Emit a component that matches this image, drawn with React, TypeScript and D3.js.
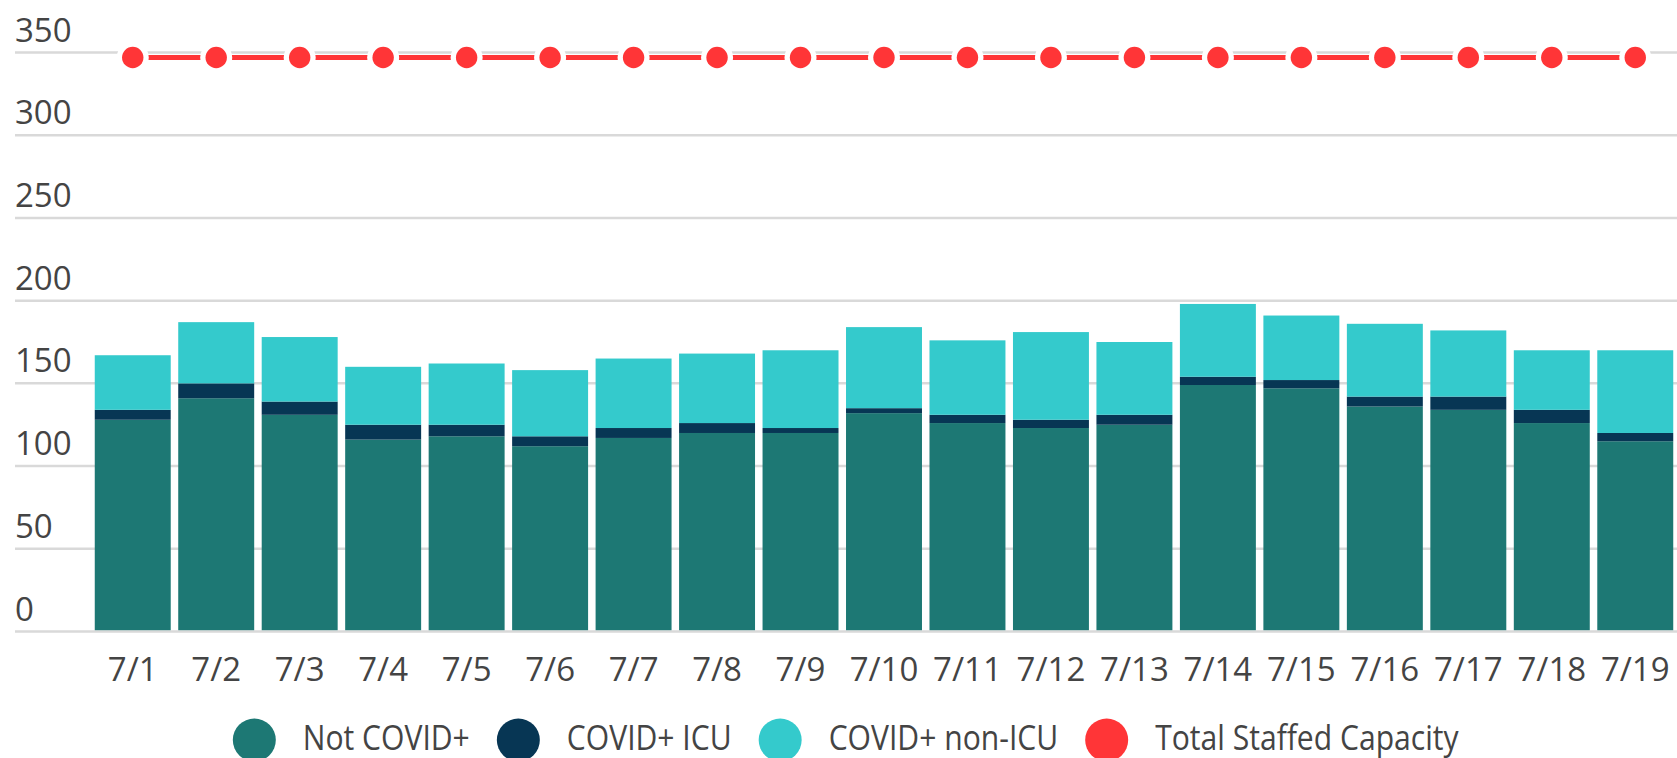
import React, { useEffect, useRef } from "react";
import * as d3 from "d3";

const dates = ["7/1", "7/2", "7/3", "7/4", "7/5", "7/6", "7/7", "7/8", "7/9", "7/10", "7/11", "7/12", "7/13", "7/14", "7/15", "7/16", "7/17", "7/18", "7/19"];
const notCovid = [128, 141, 131, 116, 118, 112, 117, 120, 120, 132, 126, 123, 125, 149, 147, 136, 134, 126, 115];
const covidIcu = [6, 9, 8, 9, 7, 6, 6, 6, 3, 3, 5, 5, 6, 5, 5, 6, 8, 8, 5];
const covidNonIcu = [33, 37, 39, 35, 37, 40, 42, 42, 47, 49, 45, 53, 44, 44, 39, 44, 40, 36, 50];
const capacity = [347, 347, 347, 347, 347, 347, 347, 347, 347, 347, 347, 347, 347, 347, 347, 347, 347, 347, 347];
const yTicks = [0, 50, 100, 150, 200, 250, 300, 350];

const seriesNames = ["Not COVID+", "COVID+ ICU", "COVID+ non-ICU", "Total Staffed Capacity"];
const colors = ["#1d7874", "#073654", "#34cacc", "#ff3537"];

const W = 1677;
const H = 758;
const FONT = "'Open Sans', sans-serif";

export default function App() {
  const svgRef = useRef<SVGSVGElement>(null);

  useEffect(() => {
    const svg = d3.select(svgRef.current);
    svg.selectAll("*").remove();

    const rows = dates.map((d, i) => ({
      date: d,
      notCovid: notCovid[i],
      icu: covidIcu[i],
      nonIcu: covidNonIcu[i],
    }));

    const x = d3.scaleBand().domain(dates).range([91, W]).paddingInner(0.09).paddingOuter(0.045);
    const y = d3.scaleLinear().domain([0, 350]).range([631.5, 52.5]);

    // gridlines + y labels
    const grid = svg.append("g");
    grid
      .selectAll("line")
      .data(yTicks)
      .enter()
      .append("line")
      .attr("x1", 15)
      .attr("x2", W)
      .attr("y1", (d) => y(d))
      .attr("y2", (d) => y(d))
      .attr("stroke", "#d9d9d9")
      .attr("stroke-width", 2.5);
    grid
      .selectAll("text")
      .data(yTicks)
      .enter()
      .append("text")
      .attr("x", 15)
      .attr("y", (d) => y(d) - 11)
      .attr("fill", "#444")
      .attr("font-family", FONT)
      .attr("font-size", 33)
      .text((d) => d);

    // stacked bars
    const stack = d3.stack<any>().keys(["notCovid", "icu", "nonIcu"])(rows);
    svg
      .append("g")
      .selectAll("g")
      .data(stack)
      .enter()
      .append("g")
      .attr("fill", (_, i) => colors[i])
      .selectAll("rect")
      .data((s) => s)
      .enter()
      .append("rect")
      .attr("x", (d: any) => x(d.data.date)!)
      .attr("width", x.bandwidth())
      .attr("y", (d) => y(d[1]))
      .attr("height", (d) => y(d[0]) - y(d[1]) - (d[0] === 0 ? 1.3 : 0));

    // x labels
    svg
      .append("g")
      .selectAll("text")
      .data(dates)
      .enter()
      .append("text")
      .attr("x", (d) => x(d)! + x.bandwidth() / 2)
      .attr("y", 681)
      .attr("text-anchor", "middle")
      .attr("fill", "#444")
      .attr("font-family", FONT)
      .attr("font-size", 33)
      .text((d) => d);

    // capacity line
    const pts = dates.map((d, i) => [x(d)! + x.bandwidth() / 2, y(capacity[i])] as [number, number]);
    svg
      .append("path")
      .attr("d", d3.line()(pts))
      .attr("fill", "none")
      .attr("stroke", colors[3])
      .attr("stroke-width", 5);
    svg
      .append("g")
      .selectAll("circle")
      .data(pts)
      .enter()
      .append("circle")
      .attr("cx", (d) => d[0])
      .attr("cy", (d) => d[1])
      .attr("r", 16)
      .attr("fill", "#fff");
    svg
      .append("g")
      .selectAll("circle")
      .data(pts)
      .enter()
      .append("circle")
      .attr("cx", (d) => d[0])
      .attr("cy", (d) => d[1])
      .attr("r", 10.7)
      .attr("fill", colors[3]);

    // legend, centred under the plot (text squeezed a bit, the source font is narrow)
    const legend = svg.append("g");
    const items = legend
      .selectAll("g")
      .data(seriesNames)
      .enter()
      .append("g");
    items
      .append("circle")
      .attr("cx", 21.5)
      .attr("cy", 740)
      .attr("r", 21.5)
      .attr("fill", (_, i) => colors[i]);
    items
      .append("text")
      .attr("transform", "translate(70,750) scale(0.86,1)")
      .attr("fill", "#444")
      .attr("font-family", FONT)
      .attr("font-size", 35)
      .text((d) => d);
    const widths: number[] = [];
    items.each(function () {
      widths.push((this as SVGGElement).getBBox().width);
    });
    const gap = 27;
    const total = d3.sum(widths) + gap * (widths.length - 1);
    let cur = 846 - total / 2;
    items.attr("transform", (_, i) => {
      const t = `translate(${cur},0)`;
      cur += widths[i] + gap;
      return t;
    });
  }, []);

  return (
    <svg
      ref={svgRef}
      width={W}
      height={H}
      style={{ position: "absolute", left: 0, top: 0, background: "#fff" }}
    ></svg>
  );
}
